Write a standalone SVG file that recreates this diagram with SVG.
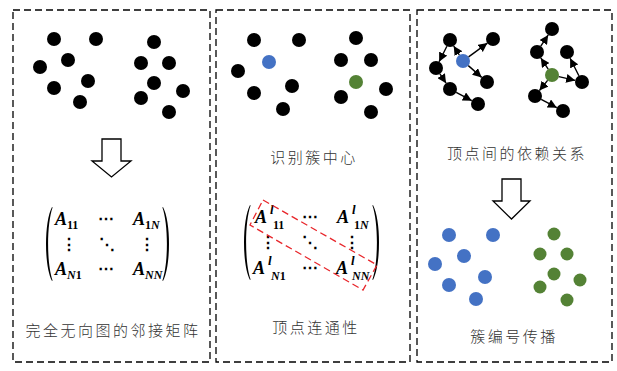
<svg xmlns="http://www.w3.org/2000/svg" width="617" height="371" viewBox="0 0 617 371">
<style>
.panel{fill:none;stroke:#000;stroke-width:1.3;stroke-dasharray:7,4}
.k{fill:#000}
.b{fill:#4472C4}
.g{fill:#548235}
.lab{font-family:"Noto Sans CJK SC","Noto Sans",sans-serif;font-size:15px;font-weight:300;fill:#333;letter-spacing:2.5px;text-anchor:middle}
.A{font-family:"Liberation Serif",serif;font-size:18px;font-weight:bold;font-style:italic}
.s{font-family:"Liberation Serif",serif;font-size:12px;font-weight:bold}
.si{font-style:italic}
.sup{font-family:"Liberation Serif",serif;font-size:13px;font-weight:bold;font-style:italic}
.d{font-family:"DejaVu Serif",serif;font-size:16px;font-weight:bold;text-anchor:middle}
.barrow{fill:#fff;stroke:#000;stroke-width:1.3}
.edge{stroke:#000;stroke-width:1.4;fill:none;marker-end:url(#ah)}
.par{fill:#000}
.red{fill:none;stroke:#e8262b;stroke-width:1.3;stroke-dasharray:7,4}
</style>
<defs>
<marker id="ah" viewBox="0 0 10 10" refX="10" refY="5" markerWidth="9" markerHeight="9" markerUnits="userSpaceOnUse" orient="auto"><path d="M0,0 L10,5 L0,10 z" fill="#000"/></marker>
</defs>

<g id="panel1">
<rect class="panel" x="13" y="10" width="197" height="352"/>
<g id="p1-graph-left">
<circle class="k" cx="54" cy="39" r="7"/><circle class="k" cx="96" cy="39" r="7"/><circle class="k" cx="68" cy="60" r="7"/><circle class="k" cx="40" cy="67" r="7"/><circle class="k" cx="88" cy="81" r="7"/><circle class="k" cx="54" cy="88" r="7"/><circle class="k" cx="80" cy="102" r="7"/>
</g>
<g id="p1-graph-right">
<circle class="k" cx="154" cy="42" r="7"/><circle class="k" cx="141" cy="63" r="7"/><circle class="k" cx="169" cy="63" r="7"/><circle class="k" cx="154" cy="83" r="7"/><circle class="k" cx="183" cy="91" r="7"/><circle class="k" cx="141" cy="98" r="7"/><circle class="k" cx="169" cy="112" r="7"/>
</g>
<polygon id="p1-arrow" class="barrow" points="102,139 121,139 121,161 131,161 111.5,177 92,161 102,161"/>
<g id="p1-matrix">
<path class="par" d="M52,207 C44,222 44,266 52,281 L52.6,280.4 C46.6,264 46.6,224 52.6,207.6 Z"/>
<path class="par" d="M163,207 C171,222 171,266 163,281 L162.4,280.4 C168.4,264 168.4,224 162.4,207.6 Z"/>
<text class="A" x="55" y="225">A</text><text class="s" x="67" y="229">11</text>
<text class="d" x="106" y="224">⋯</text>
<text class="A" x="133" y="225">A</text><text class="s" x="145" y="229">1<tspan class="si">N</tspan></text>
<text class="d" x="69" y="250">⋮</text><text class="d" x="107" y="250">⋱</text><text class="d" x="147" y="250">⋮</text>
<text class="A" x="55" y="275">A</text><text class="s" x="67" y="279"><tspan class="si">N</tspan>1</text>
<text class="d" x="106" y="274">⋯</text>
<text class="A" x="133" y="275">A</text><text class="s si" x="145" y="279">NN</text>
</g>
<text class="lab" x="113" y="336">完全无向图的邻接矩阵</text>
</g>

<g id="panel2">
<rect class="panel" x="216" y="10" width="194" height="352"/>
<g id="p2-graph-left">
<circle class="k" cx="254" cy="40" r="7"/><circle class="k" cx="299" cy="40" r="7"/><circle class="b" cx="269" cy="62" r="7"/><circle class="k" cx="238" cy="71" r="7"/><circle class="k" cx="292" cy="86" r="7"/><circle class="k" cx="254" cy="93" r="7"/><circle class="k" cx="283" cy="109" r="7"/>
</g>
<g id="p2-graph-right">
<circle class="k" cx="356" cy="38" r="7"/><circle class="k" cx="341" cy="60" r="7"/><circle class="k" cx="371" cy="60" r="7"/><circle class="g" cx="356" cy="82" r="7"/><circle class="k" cx="386" cy="89" r="7"/><circle class="k" cx="341" cy="97" r="7"/><circle class="k" cx="371" cy="112" r="7"/>
</g>
<text class="lab" x="314" y="163">识别簇中心</text>
<g id="p2-matrix">
<path class="par" d="M250,205 C242,220 242,265 250,280 L250.6,279.4 C244.6,263 244.6,222 250.6,205.6 Z"/>
<path class="par" d="M373,205 C381,220 381,265 373,280 L372.4,279.4 C378.4,263 378.4,222 372.4,205.6 Z"/>
<text class="A" x="255" y="223">A</text><text class="sup" x="270" y="214">l</text><text class="s" x="273" y="229">11</text>
<text class="d" x="310" y="222">⋯</text>
<text class="A" x="337" y="223">A</text><text class="sup" x="352" y="214">l</text><text class="s" x="354" y="229">1<tspan class="si">N</tspan></text>
<text class="d" x="268" y="248">⋮</text><text class="d" x="310" y="248">⋱</text><text class="d" x="352" y="248">⋮</text>
<text class="A" x="253" y="274">A</text><text class="sup" x="268" y="265">l</text><text class="s" x="271" y="280"><tspan class="si">N</tspan>1</text>
<text class="d" x="310" y="273">⋯</text>
<text class="A" x="336" y="274">A</text><text class="sup" x="351" y="265">l</text><text class="s si" x="352" y="280">NN</text>
<polygon class="red" points="263,200 377,265 363,290 250,225"/>
</g>
<text class="lab" x="316" y="333">顶点连通性</text>
</g>

<g id="panel3">
<rect class="panel" x="417" y="10" width="195" height="352"/>
<g id="p3-nodes">
<circle class="k" cx="450" cy="40" r="7"/><circle class="k" cx="493" cy="39" r="7"/><circle class="b" cx="463" cy="61" r="7"/><circle class="k" cx="436" cy="68" r="7"/><circle class="k" cx="487" cy="82" r="7"/><circle class="k" cx="450" cy="89" r="7"/><circle class="k" cx="478" cy="104" r="7"/>
<circle class="k" cx="552" cy="29" r="7"/><circle class="k" cx="537" cy="52" r="7"/><circle class="k" cx="567" cy="52" r="7"/><circle class="g" cx="552" cy="75" r="7"/><circle class="k" cx="582" cy="82" r="7"/><circle class="k" cx="535" cy="96" r="7"/><circle class="k" cx="563" cy="111" r="7"/>
</g>
<g id="connectors">
<line class="edge" x1="459.3" y1="55" x2="453.7" y2="46"/>
<line class="edge" x1="468.6" y1="56.9" x2="487.4" y2="43.1"/>
<line class="edge" x1="468.3" y1="65.6" x2="481.7" y2="77.4"/>
<line class="edge" x1="446.9" y1="46.3" x2="439.1" y2="61.7"/>
<line class="edge" x1="439.9" y1="73.8" x2="446.1" y2="83.2"/>
<line class="edge" x1="456.2" y1="92.3" x2="471.8" y2="100.7"/>
<line class="edge" x1="548.2" y1="69.1" x2="540.8" y2="57.9"/>
<line class="edge" x1="540.8" y1="46.1" x2="548.2" y2="34.9"/>
<line class="edge" x1="558.8" y1="76.6" x2="575.2" y2="80.4"/>
<line class="edge" x1="578.9" y1="75.7" x2="570.1" y2="58.3"/>
<line class="edge" x1="547.6" y1="80.4" x2="539.4" y2="90.6"/>
<line class="edge" x1="541.2" y1="99.3" x2="556.8" y2="107.7"/>
</g>
<text class="lab" x="517" y="159">顶点间的依赖关系</text>
<polygon id="p3-arrow" class="barrow" points="502,179 521,179 521,201 530,201 511.5,219 493,201 502,201"/>
<g id="p3-clusters">
<circle class="b" cx="449" cy="235" r="7"/><circle class="b" cx="493" cy="235" r="7"/><circle class="b" cx="464" cy="256" r="7"/><circle class="b" cx="435" cy="264" r="7"/><circle class="b" cx="485" cy="277" r="7"/><circle class="b" cx="449" cy="285" r="7"/><circle class="b" cx="476" cy="299" r="7"/>
<circle class="g" cx="554" cy="234" r="6.5"/><circle class="g" cx="540" cy="254" r="6.5"/><circle class="g" cx="567" cy="254" r="6.5"/><circle class="g" cx="554" cy="274" r="6.5"/><circle class="g" cx="580" cy="280" r="6.5"/><circle class="g" cx="540" cy="287" r="6.5"/><circle class="g" cx="567" cy="300" r="6.5"/>
</g>
<text class="lab" x="514" y="342">簇编号传播</text>
</g>
</svg>
